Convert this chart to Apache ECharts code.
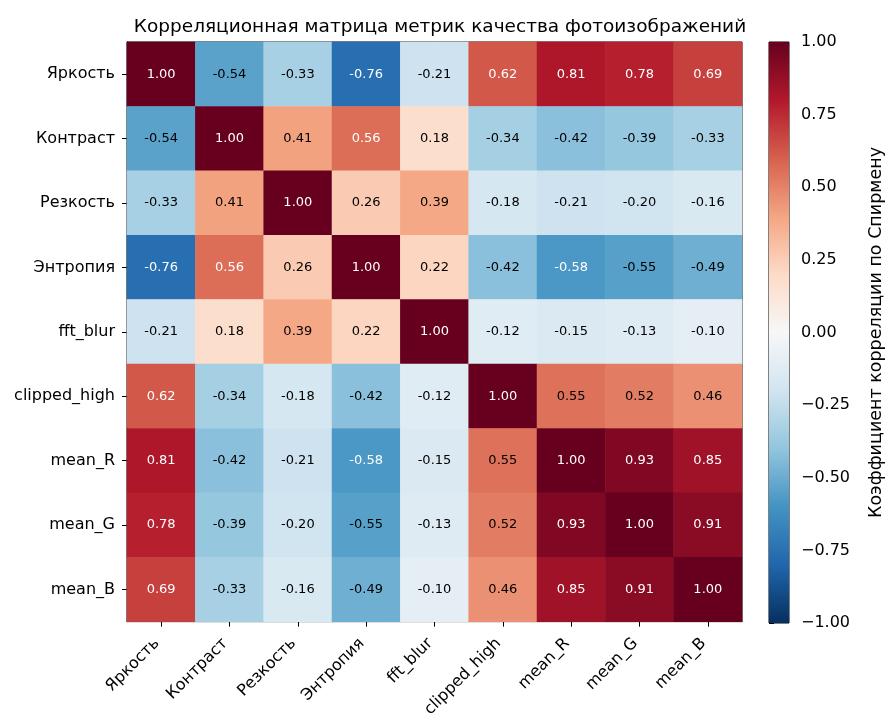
<!DOCTYPE html>
<html>
<head>
<meta charset="utf-8">
<script src="https://cdn.jsdelivr.net/npm/echarts@6/dist/echarts.min.js"></script>
<style>
  html, body { margin: 0; padding: 0; background: #fff; }
  #chart { width: 886px; height: 720px; }
</style>
</head>
<body>
<div id="chart"></div>
<script>
// Metric names (rows top-to-bottom, columns left-to-right)
const categories = ['Яркость', 'Контраст', 'Резкость', 'Энтропия', 'fft_blur', 'clipped_high', 'mean_R', 'mean_G', 'mean_B'];

// Spearman correlation matrix, one row per metric
const rowBrightness   = [ 1.00, -0.54, -0.33, -0.76, -0.21,  0.62,  0.81,  0.78,  0.69];
const rowContrast     = [-0.54,  1.00,  0.41,  0.56,  0.18, -0.34, -0.42, -0.39, -0.33];
const rowSharpness    = [-0.33,  0.41,  1.00,  0.26,  0.39, -0.18, -0.21, -0.20, -0.16];
const rowEntropy      = [-0.76,  0.56,  0.26,  1.00,  0.22, -0.42, -0.58, -0.55, -0.49];
const rowFftBlur      = [-0.21,  0.18,  0.39,  0.22,  1.00, -0.12, -0.15, -0.13, -0.10];
const rowClippedHigh  = [ 0.62, -0.34, -0.18, -0.42, -0.12,  1.00,  0.55,  0.52,  0.46];
const rowMeanR        = [ 0.81, -0.42, -0.21, -0.58, -0.15,  0.55,  1.00,  0.93,  0.85];
const rowMeanG        = [ 0.78, -0.39, -0.20, -0.55, -0.13,  0.52,  0.93,  1.00,  0.91];
const rowMeanB        = [ 0.69, -0.33, -0.16, -0.49, -0.10,  0.46,  0.85,  0.91,  1.00];

const matrixRows = [rowBrightness, rowContrast, rowSharpness, rowEntropy, rowFftBlur,
                    rowClippedHigh, rowMeanR, rowMeanG, rowMeanB];

// Colour bar range and tick step
const colorbarMin = -1;
const colorbarMax = 1;
const colorbarStep = 0.25;

// Diverging palette (RdBu reversed), low -> high
const rdBuR = ['#053061', '#2166ac', '#4393c3', '#92c5de', '#d1e5f0', '#f7f7f7',
               '#fddbc7', '#f4a582', '#d6604d', '#b2182b', '#67001f'];

const FONT = 'DejaVu Sans';

const heatData = [];
matrixRows.forEach((row, i) => {
  row.forEach((v, j) => {
    heatData.push({
      value: [j, i, v],
      label: { color: Math.abs(v) > 0.555 ? '#ffffff' : '#000000' }
    });
  });
});

const fmtTick = v => v.toFixed(2).replace('-', '\u2212');

const chart = echarts.init(document.getElementById('chart'), null, { renderer: 'canvas' });

chart.setOption({
  backgroundColor: '#ffffff',
  animation: false,
  title: {
    text: 'Корреляционная матрица метрик качества фотоизображений',
    left: 435,
    textAlign: 'center',
    top: 13,
    textStyle: { fontFamily: FONT, fontSize: 18.5, fontWeight: 'normal', color: '#000' }
  },
  grid: [
    { left: 127, top: 42, width: 615, height: 581, show: true, borderColor: '#000', borderWidth: 1, backgroundColor: 'transparent' },
    { left: 769, top: 42, width: 28, height: 581, show: true, borderColor: '#000', borderWidth: 1, backgroundColor: 'transparent' }
  ],
  xAxis: [
    {
      gridIndex: 0,
      type: 'category',
      data: categories,
      position: 'bottom',
      axisLine: { show: true, lineStyle: { color: '#000', width: 1 } },
      axisTick: { show: true, alignWithLabel: true, length: 5, lineStyle: { color: '#000' } },
      axisLabel: { rotate: 45, fontFamily: FONT, fontSize: 16, color: '#000', margin: 15, padding: [0, 6, 0, 0], interval: 0 },
      splitLine: { show: false }
    },
    {
      gridIndex: 1,
      type: 'value',
      min: 0,
      max: 1,
      show: false
    }
  ],
  yAxis: [
    {
      gridIndex: 0,
      type: 'category',
      data: categories,
      inverse: true,
      axisLine: { show: true, lineStyle: { color: '#000', width: 1 } },
      axisTick: { show: true, alignWithLabel: true, length: 5, lineStyle: { color: '#000' } },
      axisLabel: { fontFamily: FONT, fontSize: 16, color: '#000', margin: 12, interval: 0 },
      splitLine: { show: false }
    },
    {
      gridIndex: 1,
      type: 'value',
      min: colorbarMin,
      max: colorbarMax,
      interval: colorbarStep,
      position: 'right',
      axisLine: { show: false },
      axisTick: { show: true, inside: false, length: 5, lineStyle: { color: '#000' } },
      axisLabel: { fontFamily: FONT, fontSize: 16, color: '#000', margin: 12, formatter: fmtTick },
      splitLine: { show: false },
      name: 'Коэффициент корреляции по Спирмену',
      nameLocation: 'middle',
      nameRotate: 90,
      nameGap: 78,
      nameTextStyle: { fontFamily: FONT, fontSize: 17.5, color: '#000' }
    }
  ],
  visualMap: {
    show: false,
    type: 'continuous',
    min: colorbarMin,
    max: colorbarMax,
    seriesIndex: 0,
    dimension: 2,
    inRange: { color: rdBuR }
  },
  series: [
    {
      type: 'heatmap',
      xAxisIndex: 0,
      yAxisIndex: 0,
      data: heatData,
      itemStyle: { borderWidth: 0 },
      label: {
        show: true,
        fontFamily: FONT,
        fontSize: 13,
        formatter: p => p.value[2].toFixed(2)
      },
      emphasis: { disabled: true }
    },
    {
      // Colour bar gradient spanning the colour scale's full range
      type: 'custom',
      xAxisIndex: 1,
      yAxisIndex: 1,
      data: [[0, colorbarMin, 1, colorbarMax]],
      silent: true,
      renderItem: (params, api) => {
        const p0 = api.coord([api.value(0), api.value(3)]);
        const p1 = api.coord([api.value(2), api.value(1)]);
        const stops = rdBuR.slice().reverse().map((c, k) => ({ offset: k / (rdBuR.length - 1), color: c }));
        return {
          type: 'rect',
          shape: { x: p0[0], y: p0[1], width: p1[0] - p0[0], height: p1[1] - p0[1] },
          style: { fill: new echarts.graphic.LinearGradient(0, 0, 0, 1, stops) }
        };
      },
      z: 1
    }
  ]
});
</script>
</body>
</html>
